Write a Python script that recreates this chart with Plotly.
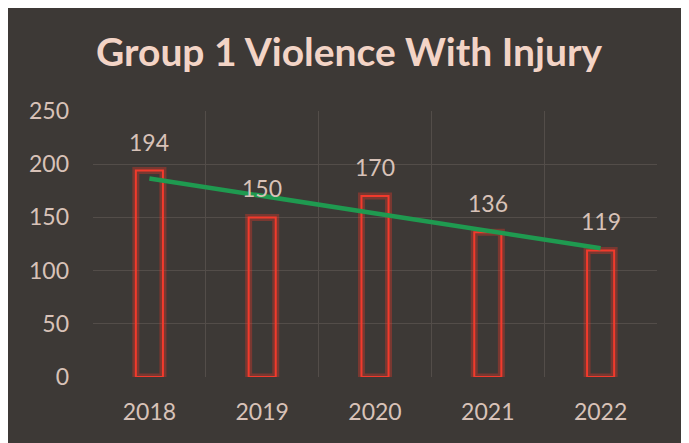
import numpy as np
import plotly.graph_objects as go

years = ["2018", "2019", "2020", "2021", "2022"]
values = [194, 150, 170, 136, 119]
y_ticks = [0, 50, 100, 150, 200, 250]
title_text = "Group 1 Violence With Injury"

BG = "#3d3936"
GRID = "#534d49"
TXT = "#d8c2b8"
FONT = "Lato"
FS = 23

# linear trendline computed from the data
xi = np.arange(len(values))
slope, intercept = np.polyfit(xi, values, 1)
trend = (slope * xi + intercept).tolist()

fig = go.Figure()
# glow
fig.add_trace(go.Bar(
    x=years, y=values, width=0.24,
    marker=dict(color="rgba(0,0,0,0)", line=dict(color="rgba(235,55,40,0.35)", width=7)),
    hoverinfo="skip", showlegend=False,
))
fig.add_trace(go.Bar(
    x=years, y=values, width=0.24,
    marker=dict(color="rgba(0,0,0,0)", line=dict(color="#f23a2c", width=2)),
    showlegend=False,
))
fig.add_trace(go.Scatter(
    x=years, y=trend, mode="lines",
    line=dict(color="#1f9a50", width=4.5),
    showlegend=False,
))

for i, v in enumerate(values):
    fig.add_annotation(x=i, y=v, text=str(v), showarrow=False,
                       yshift=29, font=dict(family=FONT, size=FS, color=TXT))

W, H = 681, 435
fig.update_layout(
    width=W, height=H,
    margin=dict(l=85, r=32, t=103, b=66),
    paper_bgcolor=BG, plot_bgcolor=BG,
    barmode="overlay",
    title=dict(text=f"<b>{title_text}</b>", xref="container", yref="container",
               x=(349 - 8) / W, y=1 - 44 / H, xanchor="center", yanchor="middle",
               font=dict(family=FONT, size=39, color="#f3d4c6")),
    xaxis=dict(type="category", categoryorder="array", categoryarray=years,
               range=[-0.5, len(years) - 0.5],
               showgrid=True, gridcolor=GRID, gridwidth=1, tickson="boundaries",
               showline=False, zeroline=False, ticks="",
               tickfont=dict(family=FONT, size=FS, color=TXT), ticklabelstandoff=19),
    yaxis=dict(range=[0, 250], tickvals=y_ticks, showgrid=True, gridcolor=GRID,
               gridwidth=1, zeroline=False, showline=False,
               tickfont=dict(family=FONT, size=FS, color=TXT), ticklabelstandoff=23),
)

fig.write_html("out.html")
